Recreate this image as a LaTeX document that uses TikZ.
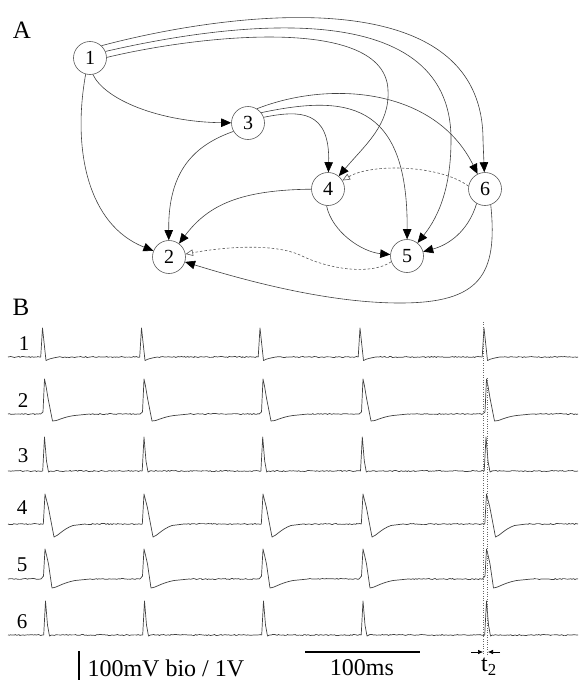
\documentclass[tikz,border=0pt]{standalone}
\usepackage{fontspec}
\setmainfont{Liberation Serif}
\usetikzlibrary{arrows.meta,decorations.pathmorphing}

% spike shapes: #1 = peak x, #2 = baseline y (y grows downwards)
% narrow spike with a small undershoot (lead 1.8, tail 16)
\newcommand\spkA[2]{\draw[trace] (#1-1.8,#2) -- (#1,#2-29) -- (#1+3.5,#2+3.5)
  .. controls (#1+6,#2+2) and (#1+10,#2+1) .. (#1+16,#2);}
% broad spike with deep undershoot (lead 4, tail 45)
\newcommand\spkB[2]{\draw[trace] (#1-4,#2) -- (#1-1.5,#2-2) -- (#1,#2-35) -- (#1+1.5,#2-28)
  -- (#1+3.5,#2-16) -- (#1+8,#2+7) .. controls (#1+12,#2+7.5) and (#1+18,#2+3) .. (#1+30,#2+1.5) -- (#1+45,#2);}
% very narrow spike, no undershoot (lead 1.8, tail 6)
\newcommand\spkC[2]{\draw[trace] (#1-1.8,#2) -- (#1,#2-34) -- (#1+2,#2-10) -- (#1+4,#2+1) -- (#1+6,#2);}
% spike with shoulder and large undershoot (lead 1.7, tail 40)
\newcommand\spkD[2]{\draw[trace] (#1-1.7,#2) -- (#1,#2-30) -- (#1+1.5,#2-24) -- (#1+3.3,#2-17)
  -- (#1+9,#2+13) .. controls (#1+13,#2+12) and (#1+18,#2+5) .. (#1+28,#2+1.5) -- (#1+40,#2);}
% spike with shoulder and medium undershoot (lead 4, tail 45)
\newcommand\spkE[2]{\draw[trace] (#1-4,#2) -- (#1-1.5,#2-3) -- (#1,#2-30) -- (#1+1.5,#2-24)
  -- (#1+3.5,#2-15) -- (#1+7,#2+9) .. controls (#1+11,#2+9) and (#1+17,#2+4) .. (#1+30,#2+1.5) -- (#1+45,#2);}

% one recorded trace: #1 baseline, #2 spike macro, #3 lead, #4 tail, #5..#9 peak positions
\newcommand\trow[9]{%
  \draw[noisy] (8,#1) -- (#5-#3,#1);
  #2{#5}{#1}
  \draw[noisy] (#5+#4,#1) -- (#6-#3,#1);
  #2{#6}{#1}
  \draw[noisy] (#6+#4,#1) -- (#7-#3,#1);
  #2{#7}{#1}
  \draw[noisy] (#7+#4,#1) -- (#8-#3,#1);
  #2{#8}{#1}
  \draw[noisy] (#8+#4,#1) -- (#9-#3,#1);
  #2{#9}{#1}
  \draw[noisy] (#9+#4,#1) -- (578,#1);
}

\begin{document}
\begin{tikzpicture}[x=1pt,y=-1pt,
  neuron/.style={circle,draw=black!65,line width=0.6pt,minimum size=33pt,inner sep=0pt,
    font=\fontsize{20}{20}\selectfont},
  syn/.style={draw=black!75,line width=0.6pt,-{Triangle[length=10pt,width=8.5pt,color=black]}},
  gap/.style={draw=black!65,line width=0.6pt,dash pattern=on 2.5pt off 2pt,
    -{Triangle[open,length=7.5pt,width=6.5pt]}},
  trace/.style={draw=black!75,line width=0.7pt,line join=round},
  noisy/.style={trace,decorate,decoration={random steps,segment length=1.5pt,amplitude=0.55pt}},
  panel/.style={font=\fontsize{25}{25}\selectfont},
  rowlab/.style={font=\fontsize{21}{21}\selectfont},
  marker/.style={draw=black!60,line width=0.6pt,dash pattern=on 0.8pt off 1.6pt},
  bar/.style={draw=black,line width=1.8pt},
  delay/.style={draw=black,line width=0.6pt,-{Latex[length=5pt,width=4.5pt]}},
  scaletext/.style={font=\fontsize{24}{24}\selectfont}
]
\useasboundingbox (0,0) rectangle (580,680);
\pgfmathsetseed{12}

% ---------- panel A: connectivity graph ----------
\node[panel] (labA) at (22,30) {A};

\node[neuron] (n1) at (90,58) {1};
\node[neuron] (n2) at (169,257) {2};
\node[neuron] (n3) at (248,123) {3};
\node[neuron] (n4) at (328,189) {4};
\node[neuron] (n5) at (407,256) {5};
\node[neuron] (n6) at (485,189) {6};

% synapses from neuron 1
\draw[syn] (n1.-105) .. controls (72,150) and (88,225) .. (n2);
\draw[syn] (n1.-80) .. controls (105,100) and (160,122) .. (n3);
\draw[syn] (n1.2) .. controls (200,35) and (385,15) .. (388,90)
  .. controls (390,125) and (365,145) .. (n4);
\draw[syn] (n1.23) .. controls (220,25) and (452,-10) .. (451,140)
  .. controls (451,185) and (440,215) .. (n5);
\draw[syn] (n1.47) .. controls (220,14) and (483,-25) .. (483,140) -- (n6);

% synapses from neuron 3
\draw[syn] (n3.-150) .. controls (195,145) and (168,170) .. (n2);
\draw[syn] (n3.20) .. controls (300,110) and (330,110) .. (n4);
\draw[syn] (n3.38) .. controls (345,95) and (408,100) .. (n5);
\draw[syn] (n3.58) .. controls (330,80) and (435,88) .. (n6);

% synapses from neurons 4 and 6
\draw[syn] (n4) .. controls (240,190) and (208,205) .. (n2);
\draw[syn] (n4.-95) .. controls (332,232) and (362,252) .. (n5);
\draw[syn] (n6.-120) .. controls (468,232) and (448,245) .. (n5);
\draw[syn] (n6.-70) .. controls (498,275) and (480,303) .. (400,303)
  .. controls (330,303) and (250,282) .. (n2);

% electrical couplings
\draw[gap] (n6.170) .. controls (440,165) and (372,163) .. (n4);
\draw[gap] (n5.-160) .. controls (372,275) and (330,270) .. (300,255)
  .. controls (275,244) and (230,246) .. (n2);

% ---------- panel B: membrane traces ----------
\node[panel] (labB) at (21,307) {B};

\node[rowlab] (r1) at (24,344) {1};
\node[rowlab] (r2) at (23,401) {2};
\node[rowlab] (r3) at (23,456) {3};
\node[rowlab] (r4) at (22,508) {4};
\node[rowlab] (r5) at (22,565) {5};
\node[rowlab] (r6) at (22,622) {6};

\trow{357}{\spkA}{1.8}{16}{42.5}{141.5}{260}{360}{484}
\trow{414}{\spkB}{4}{45}{44.5}{144}{263}{363}{486.5}
\trow{471}{\spkC}{1.8}{6}{44.5}{144}{262.7}{362.3}{486}
\trow{524}{\spkD}{1.7}{40}{45}{144}{263}{363}{486.5}
\trow{579}{\spkE}{4}{45}{45}{144}{263}{363}{486.5}
\trow{635}{\spkC}{1.8}{6}{45.5}{144.5}{263.5}{363}{486.5}

% spike-time markers and delay
\coordinate (dA1) at (483,322);
\coordinate (dA2) at (483,655);
\coordinate (dB1) at (487.5,378);
\coordinate (dB2) at (487.5,655);
\draw[marker] (dA1) -- (dA2);
\draw[marker] (dB1) -- (dB2);
\coordinate (tl) at (471,652);
\coordinate (tlr) at (483,652);
\coordinate (tr) at (500,652);
\coordinate (trl) at (488,652);
\draw[delay] (tl) -- (tlr);
\draw[delay] (tr) -- (trl);
\node[scaletext] (t2) at (489,667) {t\textsubscript{2}};

% scale bars
\coordinate (vb1) at (79,651);
\coordinate (vb2) at (79,680);
\draw[draw=black,line width=1.6pt] (vb1) -- (vb2);
\node[scaletext,anchor=west] (vlab) at (84,668) {100mV bio / 1V};
\coordinate (hb1) at (305,652);
\coordinate (hb2) at (420,652);
\draw[bar] (hb1) -- (hb2);
\node[scaletext] (hlab) at (362,668) {100ms};
\end{tikzpicture}
\end{document}
